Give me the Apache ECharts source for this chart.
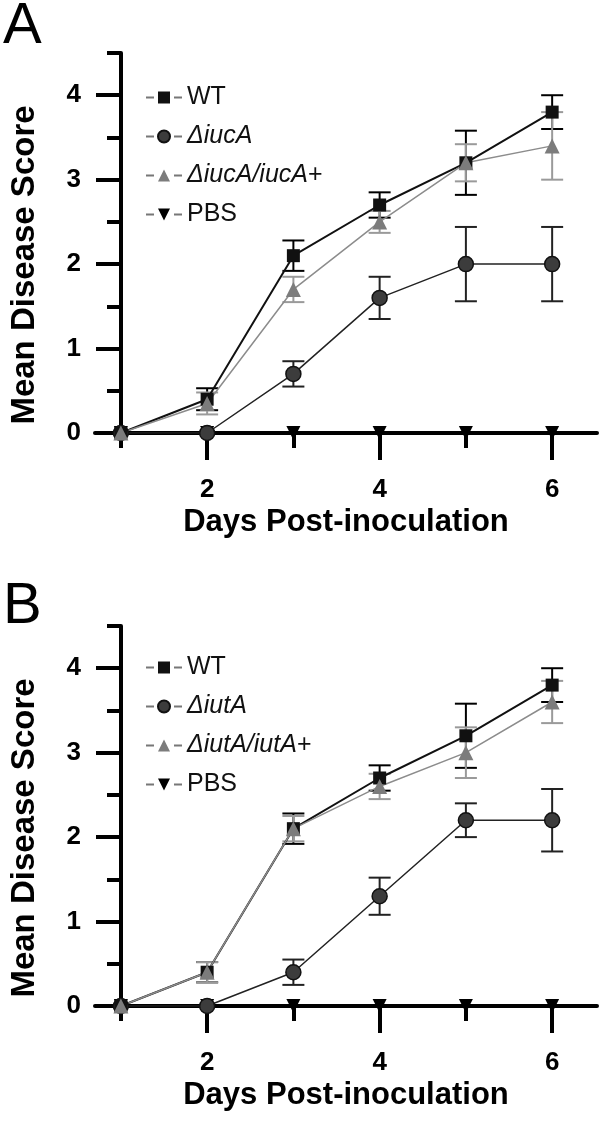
<!DOCTYPE html>
<html>
<head>
<meta charset="utf-8">
<style>
  html, body { margin: 0; padding: 0; background: #fff; }
  #chart { width: 600px; height: 1125px; }
</style>
<script src="https://cdn.jsdelivr.net/npm/echarts@6/dist/echarts.min.js"></script>
</head>
<body>
<div id="chart"></div>
<script>
const days = [1, 2, 3, 4, 5, 6]
const xMajorTicks = [2, 4, 6]
const xMinorTicks = [1, 3, 5]
const yMajorTicks = [0, 1, 2, 3, 4]
const yMinorTicks = [0.5, 1.5, 2.5, 3.5, 4.5]

// Panel A
const namesA = ['WT', 'ΔiucA', 'ΔiucA/iucA+', 'PBS']
const wtA = [0, 0.4, 2.1, 2.7, 3.2, 3.8]
const wtErrA = [0, 0.13, 0.18, 0.15, 0.38, 0.2]
const mutA = [0, 0, 0.7, 1.6, 2.0, 2.0]
const mutErrA = [0, 0, 0.15, 0.25, 0.44, 0.44]
const compA = [0, 0.35, 1.7, 2.5, 3.2, 3.4]
const compErrA = [0, 0.13, 0.15, 0.13, 0.22, 0.4]
const pbsA = [0, 0, 0, 0, 0, 0]

// Panel B
const namesB = ['WT', 'ΔiutA', 'ΔiutA/iutA+', 'PBS']
const wtB = [0, 0.4, 2.1, 2.7, 3.2, 3.8]
const wtErrB = [0, 0.12, 0.18, 0.15, 0.38, 0.2]
const mutB = [0, 0, 0.4, 1.3, 2.2, 2.2]
const mutErrB = [0, 0, 0.15, 0.22, 0.2, 0.37]
const compB = [0, 0.4, 2.1, 2.6, 3.0, 3.6]
const compErrB = [0, 0.12, 0.15, 0.15, 0.3, 0.25]
const pbsB = [0, 0, 0, 0, 0, 0]

const FONT = 'Liberation Sans, Arial, Helvetica, sans-serif'
const panelTops = [53, 626]
const X_MIN = 0.7
const X_MAX = 6.52

const toPoints = (vals) => days.map((d, i) => [d, vals[i]])
const toErr = (vals, errs) => days.map((d, i) => [d, vals[i] - errs[i], vals[i] + errs[i]])

const errRender = (color) => (params, api) => {
  const x = api.value(0)
  const lo = api.value(1)
  const hi = api.value(2)
  if (hi - lo < 0.001) return
  const p1 = api.coord([x, lo])
  const p2 = api.coord([x, hi])
  const w = 11
  const style = { stroke: color, lineWidth: 2 }
  return {
    type: 'group',
    children: [
      { type: 'line', shape: { x1: p1[0], y1: p1[1], x2: p2[0], y2: p2[1] }, style },
      { type: 'line', shape: { x1: p1[0] - w, y1: p1[1], x2: p1[0] + w, y2: p1[1] }, style },
      { type: 'line', shape: { x1: p2[0] - w, y1: p2[1], x2: p2[0] + w, y2: p2[1] }, style }
    ]
  }
}

const legendFormatter = (name) => {
  if (name.startsWith('Δ')) {
    if (name.endsWith('+')) return '{i|' + name.slice(0, -1) + '}{n|+}'
    return '{i|' + name + '}'
  }
  return name
}

const tickStyle = { color: '#000', width: 4 }

// one axis for the line + long ticks, one for short ticks, one for labels and name
const xAxesFor = (g) => [
  {
    type: 'value', gridIndex: g, position: 'bottom', min: X_MIN, max: X_MAX, z: 3,
    axisLine: { show: true, onZero: false, lineStyle: { color: '#000', width: 4 } },
    axisTick: { show: true, customValues: xMajorTicks, length: 27, lineStyle: tickStyle },
    axisLabel: { show: false },
    splitLine: { show: false }
  },
  {
    type: 'value', gridIndex: g, position: 'bottom', min: X_MIN, max: X_MAX, z: 3,
    axisLine: { show: false, onZero: false },
    axisTick: { show: true, customValues: xMinorTicks, length: 15, lineStyle: tickStyle },
    axisLabel: { show: false },
    splitLine: { show: false }
  },
  {
    type: 'value', gridIndex: g, position: 'bottom', min: X_MIN, max: X_MAX,
    axisLine: { show: false, onZero: false },
    axisTick: { show: false },
    axisLabel: { customValues: xMajorTicks, margin: 44, color: '#000', fontSize: 26, fontWeight: 'bold', fontFamily: FONT },
    splitLine: { show: false },
    name: 'Days Post-inoculation', nameLocation: 'middle', nameGap: 74,
    nameTextStyle: { color: '#000', fontSize: 31, fontWeight: 'bold', fontFamily: FONT }
  }
]

const yAxesFor = (g) => [
  {
    type: 'value', gridIndex: g, position: 'left', min: 0, max: 4.5, offset: -26, z: 3,
    axisLine: { show: true, onZero: false, lineStyle: { color: '#000', width: 4 } },
    axisTick: { show: true, customValues: yMajorTicks, length: 25, lineStyle: tickStyle },
    axisLabel: { show: false },
    splitLine: { show: false }
  },
  {
    type: 'value', gridIndex: g, position: 'left', min: 0, max: 4.5, offset: -26, z: 3,
    axisLine: { show: false, onZero: false },
    axisTick: { show: true, customValues: yMinorTicks, length: 14, lineStyle: tickStyle },
    axisLabel: { show: false },
    splitLine: { show: false }
  },
  {
    type: 'value', gridIndex: g, position: 'left', min: 0, max: 4.5, offset: -26,
    axisLine: { show: false, onZero: false },
    axisTick: { show: false },
    axisLabel: { customValues: yMajorTicks, margin: 40, color: '#000', fontSize: 26, fontWeight: 'bold', fontFamily: FONT },
    splitLine: { show: false },
    name: 'Mean Disease Score', nameLocation: 'middle', nameGap: 80, nameRotate: 90,
    nameTextStyle: { color: '#000', fontSize: 33, fontWeight: 'bold', fontFamily: FONT, padding: [0, 44, 0, 0] }
  }
]

const seriesFor = (g, names, wt, wtErr, mut, mutErr, comp, compErr, pbs) => {
  const ax = { xAxisIndex: g * 3, yAxisIndex: g * 3 }
  return [
    { type: 'custom', name: names[1] + ' err', ...ax, z: 1, renderItem: errRender('#222'), encode: { x: 0, y: [1, 2] }, data: toErr(mut, mutErr) },
    { type: 'custom', name: names[0] + ' err', ...ax, z: 1, renderItem: errRender('#000'), encode: { x: 0, y: [1, 2] }, data: toErr(wt, wtErr) },
    { type: 'custom', name: names[2] + ' err', ...ax, z: 1, renderItem: errRender('#9a9a9a'), encode: { x: 0, y: [1, 2] }, data: toErr(comp, compErr) },
    {
      type: 'line', name: names[3], ...ax, data: toPoints(pbs),
      symbol: 'triangle', symbolRotate: 180, symbolSize: 14,
      itemStyle: { color: '#000' }, lineStyle: { color: '#000', width: 2 }
    },
    {
      type: 'line', name: names[1], ...ax, data: toPoints(mut),
      symbol: 'circle', symbolSize: 15,
      itemStyle: { color: '#3c3c3c', borderColor: '#111', borderWidth: 1.5 },
      lineStyle: { color: '#222', width: 1.5 }
    },
    {
      type: 'line', name: names[0], ...ax, data: toPoints(wt),
      symbol: 'rect', symbolSize: 13,
      itemStyle: { color: '#111' }, lineStyle: { color: '#111', width: 2 }
    },
    {
      type: 'line', name: names[2], ...ax, data: toPoints(comp),
      symbol: 'triangle', symbolSize: 15,
      itemStyle: { color: '#7c7c7c' }, lineStyle: { color: '#8c8c8c', width: 1.5 }
    }
  ]
}

const legendFor = (names, top) => ({
  data: names,
  orient: 'vertical',
  left: 145,
  top: top,
  padding: 0,
  itemWidth: 36,
  itemHeight: 15,
  itemGap: 14,
  lineStyle: { type: [8, 20], width: 2, color: '#777' },
  formatter: legendFormatter,
  textStyle: {
    fontSize: 25, color: '#111', fontFamily: FONT,
    rich: {
      i: { fontSize: 25, fontStyle: 'italic', color: '#111', fontFamily: FONT },
      n: { fontSize: 25, color: '#111', fontFamily: FONT }
    }
  }
})

const chart = echarts.init(document.getElementById('chart'), null, { renderer: 'canvas' })

chart.setOption({
  animation: false,
  backgroundColor: '#fff',
  title: [
    { text: 'A', left: 3, top: -2, padding: 0, textStyle: { fontSize: 58, fontWeight: 'normal', color: '#000', fontFamily: FONT } },
    { text: 'B', left: 3, top: 578, padding: 0, textStyle: { fontSize: 58, fontWeight: 'normal', color: '#000', fontFamily: FONT } }
  ],
  legend: [legendFor(namesA, 85), legendFor(namesB, 655)],
  grid: panelTops.map(t => ({ left: 92, top: t, width: 505, height: 380 })),
  xAxis: [...xAxesFor(0), ...xAxesFor(1)],
  yAxis: [...yAxesFor(0), ...yAxesFor(1)],
  series: [
    ...seriesFor(0, namesA, wtA, wtErrA, mutA, mutErrA, compA, compErrA, pbsA),
    ...seriesFor(1, namesB, wtB, wtErrB, mutB, mutErrB, compB, compErrB, pbsB)
  ]
})
</script>
</body>
</html>
